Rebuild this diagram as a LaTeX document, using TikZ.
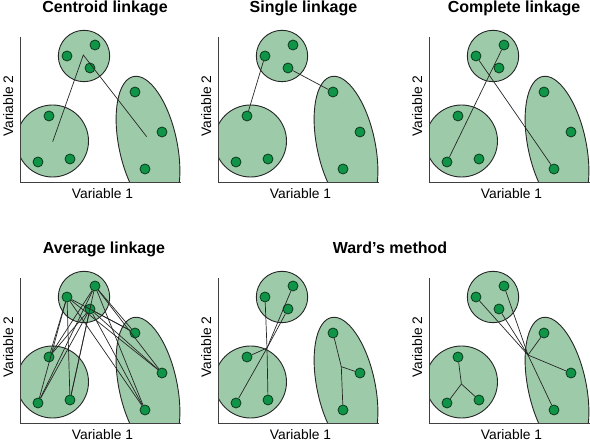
\documentclass[tikz,border=0pt]{standalone}
\usepackage{fontspec}
\setmainfont{Liberation Sans}
\usepackage{xcolor}

\definecolor{clusterfill}{HTML}{9DCBA9}
\definecolor{dotgreen}{HTML}{109447}
\definecolor{dotedge}{HTML}{0C3A1E}

\begin{document}
\begin{tikzpicture}[x=1pt,y=1pt,
  cluster/.style={fill=clusterfill, draw=black!85, line width=0.9pt},
  dot/.style={circle, fill=dotgreen, draw=dotedge, line width=0.8pt, inner sep=0pt, minimum size=10pt},
  link/.style={draw=black!85, line width=0.7pt},
  axis/.style={draw=black!75, line width=0.8pt},
  title/.style={font=\bfseries\fontsize{16}{18}\selectfont, anchor=base},
  axlabel/.style={font=\fontsize{13.8}{16}\selectfont, anchor=base}]

    \useasboundingbox (0,0) rectangle (590,442);

    % six panels, same clusters in each
    \foreach \n/\x/\y in {p1/20/260, p2/218/260, p3/429/260, p4/20/19, p5/218/19, p6/429/19} {
        \begin{scope}[shift={(\x,\y)}]
            \begin{scope}
                \clip (0,0) rectangle (170,170);
                \draw[cluster] (32.5,41) circle (36);
                \draw[cluster, rotate around={12:(128,37)}] (128,37) ellipse (29 and 70);
            \end{scope}
            \draw[cluster] (64,126) circle (25.7);

            \draw[axis] (0,145) -- (0,0) -- (161,0);
            \node[axlabel] (\n-xl) at (82.5,-17) {Variable 1};
            \node[axlabel, rotate=90] (\n-yl) at (-7,76) {Variable 2};

            \node[dot] (\n-t1) at (47,126) {};
            \node[dot] (\n-t2) at (75,137) {};
            \node[dot] (\n-t3) at (70,114) {};
            \node[dot] (\n-b1) at (29,66) {};
            \node[dot] (\n-b2) at (18,20) {};
            \node[dot] (\n-b3) at (50,23) {};
            \node[dot] (\n-e1) at (115,90) {};
            \node[dot] (\n-e2) at (142,50) {};
            \node[dot] (\n-e3) at (125,13) {};
        \end{scope}
    }

    \node[title] (c1) at (105,429.5) {Centroid linkage};
    \node[title] (c2) at (303.5,429.5) {Single linkage};
    \node[title] (c3) at (514,429.5) {Complete linkage};
    \node[title] (c4) at (104,188) {Average linkage};
    \node[title] (c5) at (390,188) {Ward’s method};

    % centroids and merge points
    \begin{scope}[shift={(20,260)}]
        \coordinate (p1-gb) at (32.7,40.3);
        \coordinate (p1-gt) at (63.3,127);
        \coordinate (p1-ge) at (126.7,45.3);
    \end{scope}
    \begin{scope}[shift={(218,19)}]
        \coordinate (p5-j1) at (49,75);
        \coordinate (p5-j2) at (123.3,56.3);
    \end{scope}
    \begin{scope}[shift={(429,19)}]
        \coordinate (p6-j1) at (32.4,39);
        \coordinate (p6-j2) at (99,68);
    \end{scope}

    \draw[link] (p1-gb) -- (p1-gt) -- (p1-ge);

    \path[link]
        (p2-t1) edge (p2-b1)
        (p2-t3) edge (p2-e1)

        (p3-t2) edge (p3-b2)
        (p3-t1) edge (p3-e3)
        ;

    \foreach \i in {t1,t2,t3}
        \foreach \j in {b1,b2,b3,e1,e2,e3}
            \path[link] (p4-\i) edge (p4-\j);

    \foreach \j in {t1,t2,t3,b1,b2,b3}
        \path[link] (p5-j1) edge (p5-\j);
    \foreach \j in {e1,e2,e3}
        \path[link] (p5-j2) edge (p5-\j);

    \foreach \j in {b1,b2,b3}
        \path[link] (p6-j1) edge (p6-\j);
    \foreach \j in {t1,t2,t3,e1,e2,e3}
        \path[link] (p6-j2) edge (p6-\j);
\end{tikzpicture}
\end{document}
